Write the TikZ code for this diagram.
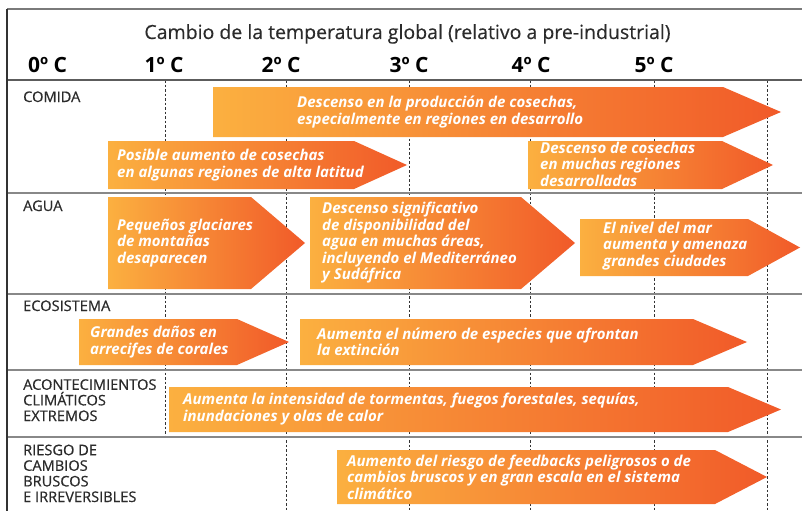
\documentclass[tikz,border=0pt]{standalone}
\usepackage{fontspec}
\setmainfont{Open Sans}
\newfontfamily\semib{Open Sans}[FakeBold=0.6]
\newfontfamily\medf{Open Sans}[FakeBold=0.35]
\definecolor{OrL}{HTML}{FBB040}
\definecolor{OrR}{HTML}{F15A29}
\definecolor{GridDark}{HTML}{333333}
\definecolor{GridGray}{HTML}{888888}
\definecolor{TxtDark}{HTML}{2B2B2B}
\newcommand\orarrow[5]{%
  \shade[arrowfill] (#1,#2) -- (#4,#2) -- (#5,{(#2+#3)/2}) -- (#4,#3) -- (#1,#3) -- cycle;}
\tikzset{
  arrowfill/.style={left color=OrL, right color=OrR, draw=none},
  arrowtext/.style={anchor=west, inner sep=0pt, align=left, text=white,
    font=\fontsize{15}{16.5}\selectfont\bfseries\itshape},
  rowlabel/.style={anchor=base west, inner sep=0pt, align=left, text=TxtDark,
    font=\semib\fontsize{14.6}{15.6}\selectfont},
  templabel/.style={anchor=base, inner sep=0pt, text=black,
    font=\fontsize{21}{24}\selectfont\bfseries},
  gridline/.style={GridGray, line width=2pt},
  tickline/.style={GridDark, line width=1pt, dash pattern=on 2.5pt off 2pt},
}
\begin{document}
\begin{tikzpicture}[x=1pt,y=-1pt]
\useasboundingbox (0,0) rectangle (802,511);
% dashed temperature lines
\foreach \xx/\yy in {165/437, 286/511, 409/511, 530/511, 654/511, 767/511}
  \draw[tickline] (\xx,80) -- (\xx,\yy);
% frame
\draw[GridGray!90!black, line width=1.5pt] (7,9) -- (802,9);
\draw[GridDark!80, line width=1.5pt] (7,80) -- (802,80);
\foreach \yy in {193,294,370,437}
  \draw[gridline] (7,\yy) -- (802,\yy);
\draw[GridDark, line width=1.5pt] (7,9) -- (7,511);
% title and temperatures
\node[anchor=base, inner sep=0pt, text=TxtDark, font=\medf\fontsize{19.5}{22}\selectfont] (title) at (407.5,39) {Cambio de la temperatura global (relativo a pre-industrial)};
\node[templabel] (t0) at (47.5,72) {0º C};
\node[templabel] (t1) at (164,72) {1º C};
\node[templabel] (t2) at (281,72) {2º C};
\node[templabel] (t3) at (409,72) {3º C};
\node[templabel] (t4) at (531,72) {4º C};
\node[templabel] (t5) at (654,72) {5º C};
% row labels (base = baseline of the last line)
\node[rowlabel] (lcomida) at (23,102) {COMIDA};
\node[rowlabel] (lagua) at (23,211) {AGUA};
\node[rowlabel] (leco) at (23,311) {ECOSISTEMA};
\node[rowlabel] (lext) at (23,421) {ACONTECIMIENTOS\\CLIMÁTICOS\\EXTREMOS};
\node[rowlabel] (lries) at (23,502) {RIESGO DE\\CAMBIOS\\BRUSCOS\\E IRREVERSIBLES};
% arrows
\orarrow{213}{87}{137}{723}{781}
\node[arrowtext] (a1) at (297,112) {Descenso en la producción de cosechas,\\especialmente en regiones en desarrollo};
\orarrow{108}{141}{189}{354}{407}
\node[arrowtext] (a2) at (117,165) {Posible aumento de cosechas\\en algunas regiones de alta latitud};
\orarrow{528}{141}{189}{722}{773}
\node[arrowtext] (a3) at (540,164) {Descenso de cosechas\\en muchas regiones\\desarrolladas};
\orarrow{108}{197}{289}{251}{305}
\node[arrowtext] (a4) at (117,243) {Pequeños glaciares\\de montañas\\desaparecen};
\orarrow{310}{197}{289}{521}{575}
\node[arrowtext] (a5) at (322,243) {Descenso significativo\\de disponibilidad del\\agua en muchas áreas,\\incluyendo el Mediterráneo\\y Sudáfrica};
\orarrow{580}{219}{276}{748}{800}
\node[arrowtext] (a6) at (603,246) {El nivel del mar\\aumenta y amenaza\\grandes ciudades};
\orarrow{79}{319}{365}{237}{289}
\node[arrowtext] (a7) at (90,342) {Grandes daños en\\arrecifes de corales};
\orarrow{300}{319}{365}{693}{747}
\node[arrowtext] (a8) at (317,342) {Aumenta el número de especies que afrontan\\la extinción};
\orarrow{169}{387}{432}{728}{781}
\node[arrowtext] (a9) at (183,409) {Aumenta la intensidad de tormentas, fuegos forestales, sequías,\\inundaciones y olas de calor};
\orarrow{337}{450}{504}{715}{767}
\node[arrowtext] (a10) at (347,477) {Aumento del riesgo de feedbacks peligrosos o de\\cambios bruscos y en gran escala en el sistema\\climático};
\end{tikzpicture}
\end{document}
